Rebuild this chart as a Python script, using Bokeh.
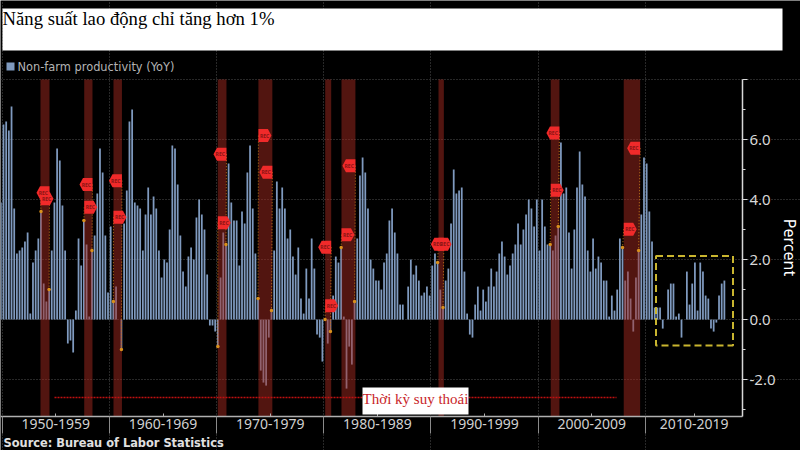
from bokeh.plotting import figure
from bokeh.embed import file_html
from bokeh.resources import INLINE
from bokeh.core.properties import value
from bokeh.models import (BoxAnnotation, FixedTicker, Grid, Label, LinearAxis, Range1d)

productivity = [
 3.9,6.5,6.6,6.3,7.1,3.7,2.2,2.3,2.4,2.6,2.9,0.2,1.9,2.3,2.7,3.6,1.2,0.6,1.0,2.3,
 3.9,5.7,5.3,3.8,2.3,-0.8,-0.7,-1.1,0.3,2.7,1.8,3.3,2.5,0.1,2.3,2.8,4.2,5.7,4.9,2.8,
 0.9,3.1,0.6,1.1,0.0,-1.0,3.2,4.3,6.6,7.0,3.9,3.8,3.7,2.3,3.5,4.4,3.5,4.1,3.7,2.3,
 1.4,2.0,1.9,3.0,5.8,5.7,4.5,2.8,1.6,1.1,2.1,2.4,2.0,3.4,4.0,3.5,3.0,1.5,-0.2,-0.2,
 -0.4,-0.9,1.4,2.9,2.5,5.2,3.9,3.3,3.3,1.8,3.6,3.2,4.9,5.8,3.7,2.2,0.7,-1.7,-2.1,-2.2,
 -0.6,0.3,2.3,4.6,3.7,4.4,3.7,2.7,3.0,2.1,1.5,2.4,0.7,0.2,1.7,0.7,2.7,1.7,-0.5,-0.6,
 -1.4,0.0,-0.8,-0.4,0.8,2.1,1.9,2.4,0.1,-2.3,-0.9,-1.5,0.6,2.7,4.8,5.4,4.9,3.7,2.0,1.7,
 1.3,1.3,1.0,1.9,2.2,3.3,3.7,2.9,2.2,0.5,0.5,0.0,1.1,2.0,1.5,1.8,1.3,0.8,0.9,1.1,
 0.8,1.8,2.2,1.9,1.0,0.4,1.3,1.7,3.2,5.0,4.2,4.3,4.4,1.6,0.2,-0.5,-0.6,0.5,1.1,0.3,
 1.0,0.6,1.1,1.7,1.1,1.6,2.2,2.6,2.1,1.5,1.8,2.2,2.5,3.2,2.5,3.0,3.5,4.0,3.7,3.1,
 4.0,2.3,4.0,3.1,2.5,2.5,2.3,2.8,3.1,5.9,4.2,4.4,2.9,1.7,3.0,4.4,5.6,4.5,4.1,2.3,
 1.6,2.7,1.7,2.1,1.9,1.3,1.3,0.1,0.8,0.3,1.0,2.7,2.4,1.3,1.6,0.7,-0.4,1.4,2.3,3.5,
 5.4,5.2,3.6,2.6,0.4,0.4,0.4,-0.3,0.0,1.0,1.2,1.2,0.1,0.2,-0.6,0.0,1.6,0.5,1.2,1.9,
 0.3,1.9,1.6,0.8,0.7,-0.3,-0.4,-0.1,0.8,1.2,1.3,
]
first_quarter = 1949.87
years = [first_quarter + 0.25 * i for i in range(len(productivity))]

rec_start = [1953.57,1957.65,1960.38,1970.11,1973.90,1980.13,1981.65,1990.70,2001.17,2007.98]
rec_end   = [1954.41,1958.42,1961.17,1970.92,1975.20,1980.69,1982.95,1991.20,2001.98,2009.51]
rec_start_bar = [15,31,42,81,96,121,127,163,205,232]
rec_end_bar   = [18,34,45,84,101,123,132,165,208,238]
tag_left_y  = [4.23,4.50,4.63,5.51,4.91,2.41,5.13,2.51,6.22,5.71]
tag_right_y = [4.03,3.74,3.41,3.23,6.13,0.46,2.83,2.51,4.31,3.01]

x_major = [1955,1965,1975,1985,1995,2005,2014.55]
x_labels = ["1950-1959","1960-1969","1970-1979","1980-1989","1990-1999","2000-2009","2010-2019"]
x_bounds = [1950,1960,1970,1980,1990,2000,2010]
y_major = [-2,0,2,4,6,8]
y_minor = [-3,-1,1,3,5,7]
y_labels = ["-2.0","0.0","2.0","4.0","6.0",""]

X0, X1 = 1949.84, 2019.06
Y0, Y1 = -3.23, 8.0
PXX = 742 / (X1 - X0)
PXY = 337 / (Y1 - Y0)

def dx(px):
    return X0 + px / PXX

def dy(py):
    return Y1 - (py - 79) / PXY

BAR = "#7f9abf"
p = figure(width=800, height=450, output_backend="svg", toolbar_location=None,
           x_range=Range1d(dx(0), dx(800)), y_range=Range1d(dy(450), dy(0)),
           min_border=0, background_fill_color="black", border_fill_color="black",
           outline_line_color=None, x_axis_location=None, y_axis_location=None)
p.grid.visible = False

p.add_layout(Grid(dimension=0, ticker=FixedTicker(ticks=x_bounds), bounds=(Y0, Y1), grid_line_color="#505050",
                  grid_line_dash="1 2"))
p.add_layout(Grid(dimension=1, ticker=FixedTicker(ticks=y_major), bounds=(X0, X1), grid_line_color="#505050",
                  grid_line_dash="1 2"))

xa = LinearAxis(fixed_location=Y0, bounds=(X0, X1),
                ticker=FixedTicker(ticks=x_major, minor_ticks=x_bounds),
                major_label_overrides=dict(zip(x_major, x_labels)),
                major_tick_in=3, major_tick_out=0, minor_tick_in=0, minor_tick_out=17,
                major_tick_line_color="#b0b0b0", minor_tick_line_color="#8a8a8a", axis_line_color="#b0b0b0",
                axis_line_width=1.5, major_label_text_color="#d0d0d0", major_label_text_font="Noto Sans",
                major_label_text_font_size="14px", major_label_standoff=-15)
p.add_layout(xa, "below")

ya = LinearAxis(fixed_location=X1, bounds=(Y0, Y1),
                ticker=FixedTicker(ticks=y_major, minor_ticks=y_minor),
                major_label_overrides=dict(zip(y_major, y_labels)),
                major_tick_in=0, major_tick_out=5, minor_tick_in=0, minor_tick_out=3,
                major_tick_line_color="#d8d8d8", minor_tick_line_color="#d8d8d8", axis_line_color="#d8d8d8",
                axis_line_width=1.5, major_label_text_color="#d8d8d8", major_label_text_font="Noto Sans",
                major_label_text_font_size="15px", major_label_standoff=2)
p.add_layout(ya, "right")

p.vbar(x=years, top=productivity, bottom=0, width=0.165, color=BAR, line_color=None)

p.quad(left=rec_start, right=rec_end, bottom=Y0, top=Y1,
       fill_color="#a32a20", fill_alpha=0.5, line_color=None)

# orange dotted connectors and dots
sx = [years[i] for i in rec_start_bar]
ex = [years[i] for i in rec_end_bar]
sv = [productivity[i] for i in rec_start_bar]
ev = [productivity[i] for i in rec_end_bar]
p.segment(x0=rec_start, y0=tag_right_y, x1=sx, y1=sv, line_color="#c07a18", line_dash="1 2", line_width=1)
p.segment(x0=rec_end, y0=tag_left_y, x1=ex, y1=ev, line_color="#c07a18", line_dash="1 2", line_width=1)
p.scatter(x=sx + ex, y=sv + ev, size=3.5, color="#d8901c", line_color=None)

# red dotted line to the label
p.line(x=[dx(54), dx(616)], y=[dy(397), dy(397)], line_color="#c01010", line_width=1.5, line_dash="2 1")

# REC tags
W, TIP, H = 9.5 / PXX, 13 / PXX, 6.5 / PXY
xs, ys, tx, ty = [], [], [], []
for a, y in zip(rec_end, tag_left_y):
    xs.append([a, a, a - W, a - TIP, a - W])
    ys.append([y - H, y + H, y + H, y, y - H])
    tx.append(a - 6.2 / PXX)
    ty.append(y)
for a, y in zip(rec_start, tag_right_y):
    xs.append([a, a, a + W, a + TIP, a + W])
    ys.append([y - H, y + H, y + H, y, y - H])
    tx.append(a + 6.2 / PXX)
    ty.append(y)
p.patches(xs, ys, fill_color="#f02a2a", line_color=None)
p.text(x=tx, y=ty, text=["REC"] * len(tx), text_color="#8a1414", text_font=value("Noto Sans"),
       text_font_size="5px", text_font_style="bold", text_align="center", text_baseline="middle")

def label(px, py, text, **kw):
    p.add_layout(Label(x=dx(px), y=dy(py), text=text, **kw))

# title block
p.add_layout(BoxAnnotation(left=dx(2), right=dx(782), top=dy(8), bottom=dy(50), fill_color="white",
                           fill_alpha=1, line_color=None))
label(2, 18, "Năng suất lao động chỉ tăng hơn 1%", text_font="Liberation Serif", text_font_size="18.7px",
      text_color="black", text_baseline="middle")

# legend
p.add_layout(BoxAnnotation(left=dx(6), right=dx(14), top=dy(62), bottom=dy(70), fill_color=BAR,
                           fill_alpha=1, line_color=None))
label(17, 66, "Non-farm productivity (YoY)", text_font="DejaVu Sans", text_font_size="11.4px",
      text_color="#b4b4b4", text_baseline="middle")

# selection box
p.add_layout(BoxAnnotation(left=dx(655.5), right=dx(732.5), top=dy(255.5), bottom=dy(345), fill_alpha=0,
                           line_color="#c9b52f", line_alpha=1, line_width=2, line_dash="7 4"))

# recession caption
p.add_layout(BoxAnnotation(left=dx(362), right=dx(468), top=dy(387), bottom=dy(414), fill_color="white",
                           fill_alpha=1, line_color=None))
label(415, 398, "Thời kỳ suy thoái", text_font="Liberation Serif", text_font_size="15px",
      text_color="#c81e28", text_align="center", text_baseline="middle")

# footer and axis title
label(3, 442, "Source: Bureau of Labor Statistics", text_font="DejaVu Sans", text_font_size="11.4px",
      text_font_style="bold", text_color="#e0e0e0", text_baseline="middle")
label(789, 247, "Percent", text_font="Noto Sans", text_font_size="16px", text_color="white", angle=-90,
      angle_units="deg", text_align="center", text_baseline="middle")

open("out.html", "w").write(file_html(p, INLINE))
